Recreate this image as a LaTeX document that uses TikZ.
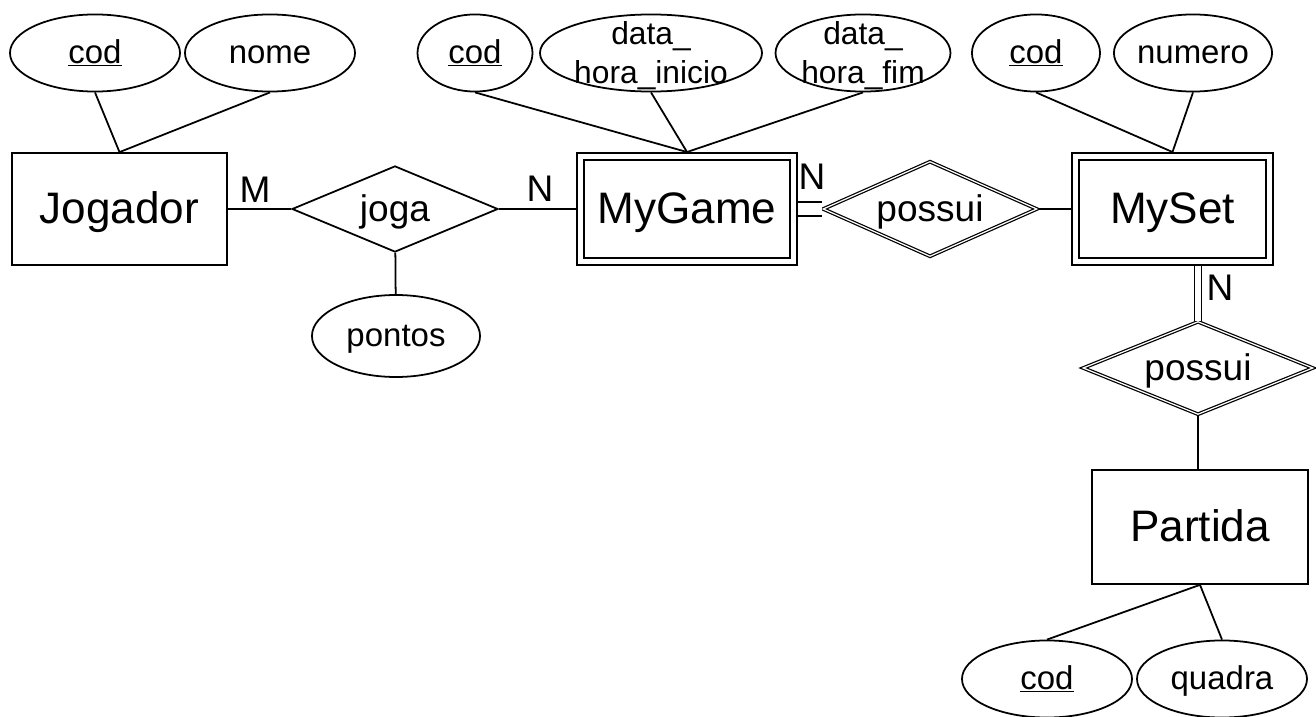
\documentclass[tikz,border=0pt]{standalone}
\usepackage{fontspec}
\setmainfont{Liberation Sans}
\usetikzlibrary{shapes.geometric}
\newcommand{\twoline}[2]{\makebox[0pt]{\smash{\raisebox{-6pt}{\begin{tabular}{@{}c@{}}#1\\#2\end{tabular}}}}}

\begin{document}
\begin{tikzpicture}[x=0.567pt,y=-0.567pt,line width=1pt,
	ent/.style={draw,rectangle,inner sep=0pt,minimum height=63.5pt,text height=18pt,text depth=2pt,font=\fontsize{25}{30}\selectfont},
	wkent/.style={ent,double,double distance=3pt,outer sep=2.5pt,minimum height=59.6pt},
	rel/.style={draw,diamond,aspect=2.4,inner sep=0pt,text height=16pt,text depth=1.5pt,font=\fontsize{21}{25}\selectfont},
	wkrel/.style={rel,line width=0.7pt,double,double distance=0.7pt},
	attr/.style={draw,ellipse,inner sep=0pt,minimum height=43.7pt,text height=13pt,text depth=1.6pt,font=\fontsize{18.7}{22}\selectfont},
	card/.style={inner sep=0pt,font=\fontsize{21}{25}\selectfont},
	dbl/.style={double,double distance=#1}]
	\useasboundingbox (0,0) rectangle (1316,717);

		\node[ent,minimum width=122pt]   (jog)   at (119.5,209)  {Jogador};
		\node[wkent,minimum width=121pt] (game)  at (687,209)    {MyGame};
		\node[wkent,minimum width=110pt] (set)   at (1172.5,209) {MySet};
		\node[ent,minimum width=122.5pt,minimum height=64.6pt] (part) at (1200,527) {Partida};

		\node[rel,minimum width=116.8pt,minimum height=48.8pt]   (joga)  at (395,209)  {joga};
		\node[wkrel,minimum width=121.3pt,minimum height=53.9pt] (poss1) at (930,209)  {possui};
		\node[wkrel,minimum width=130.4pt,minimum height=52.7pt] (poss2) at (1198,368) {possui};

		\node[attr,minimum width=96.4pt]  (cod1)   at (95,53)   {\underline{cod}};
		\node[attr,minimum width=96.4pt]  (nome)   at (270,53)  {nome};
		\node[attr,minimum width=65.2pt]  (cod2)   at (475,53)  {\underline{cod}};
		\node[attr,minimum width=125.9pt,text height=0pt,text depth=0pt,font=\fontsize{18}{22}\selectfont] (dhi) at (651,53) {\twoline{data\_}{hora\_inicio}};
		\node[attr,minimum width=99.2pt,text height=0pt,text depth=0pt,font=\fontsize{18}{22}\selectfont]  (dhf) at (863,53) {\twoline{data\_}{hora\_fim}};
		\node[attr,minimum width=72.6pt]  (cod3)   at (1036,53) {\underline{cod}};
		\node[attr,minimum width=89.6pt]  (num)    at (1193,53) {numero};
		\node[attr,minimum width=95.3pt,minimum height=46.5pt] (pontos) at (396,336) {pontos};
		\node[attr,minimum width=96.4pt]  (cod4)   at (1047,679) {\underline{cod}};
		\node[attr,minimum width=96.4pt]  (quadra) at (1222,679) {quadra};

		\node[card] (cm)  at (255,190)  {M};
		\node[card] (cn1) at (540,189)  {N};
		\node[card] (cn2) at (812,177)  {N};
		\node[card] (cn3) at (1220,288) {N};

		\draw (cod1.south) -- (jog.north) -- (nome.south);
		\draw (cod2.south) -- (game.north) -- (dhf.south);
		\draw (dhi.south) -- (game.north);
		\draw (cod3.south) -- (set.north) -- (num.south);
		\draw (cod4.north) -- (part.south) -- (quadra.north);
		\draw (jog) -- (joga) -- (game);
		\draw (joga) -- (pontos);
		\draw[dbl=7pt] (game) -- (poss1);
		\draw (poss1) -- (set);
		\draw[dbl=3pt] (poss2.north) -- (poss2.north |- set.south);
		\draw (poss2.south) -- (poss2.south |- part.north);

\end{tikzpicture}
\end{document}
